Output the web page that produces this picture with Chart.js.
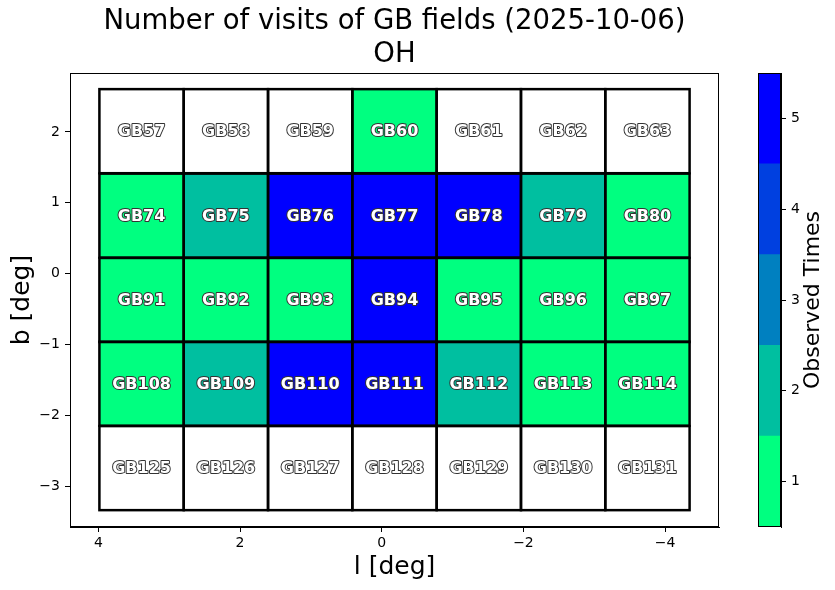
<!DOCTYPE html>
<html>
<head>
<meta charset="utf-8">
<script src="https://cdn.jsdelivr.net/npm/chart.js@4.4.1/dist/chart.umd.min.js"></script>
<style>
  html, body { margin: 0; padding: 0; background: #fff; }
  #wrap { position: relative; width: 835px; height: 590px; }
  #main { position: absolute; left: 0; top: 0; }
  #cbar { position: absolute; left: 740px; top: 0; }
</style>
</head>
<body>
<div id="wrap">
  <canvas id="main" width="835" height="590"></canvas>
  <canvas id="cbar" width="95" height="590"></canvas>
</div>
<script>
// field grid
const fieldNames = [
  ['GB57', 'GB58', 'GB59', 'GB60', 'GB61', 'GB62', 'GB63'],
  ['GB74', 'GB75', 'GB76', 'GB77', 'GB78', 'GB79', 'GB80'],
  ['GB91', 'GB92', 'GB93', 'GB94', 'GB95', 'GB96', 'GB97'],
  ['GB108', 'GB109', 'GB110', 'GB111', 'GB112', 'GB113', 'GB114'],
  ['GB125', 'GB126', 'GB127', 'GB128', 'GB129', 'GB130', 'GB131']
];
const colL = [3.39, 2.20, 1.01, -0.18, -1.37, -2.56, -3.75];
const rowB = [2.01, 0.82, -0.37, -1.55, -2.74];
const visits = [
  [0, 0, 0, 1, 0, 0, 0],
  [1, 2, 5, 5, 5, 2, 1],
  [1, 1, 1, 5, 1, 1, 1],
  [1, 2, 5, 5, 2, 1, 1],
  [0, 0, 0, 0, 0, 0, 0]
];
const xTicks = [4, 2, 0, -2, -4];
const yTicks = [-3, -2, -1, 0, 1, 2];
const cbLevels = [1, 2, 3, 4, 5];

const CELL_W = 1.19;
const CELL_H = 1.185;
const levelColors = ['#00ff80', '#00bfa0', '#0080c0', '#0040e0', '#0000ff'];
const FONT = '"DejaVu Sans", "Liberation Sans", sans-serif';

const minus = v => String(v).replace('-', '\u2212');

const cells = [];
rowB.forEach((b, r) => colL.forEach((l, c) => {
  cells.push({ x: l, y: b, v: visits[r][c], name: fieldNames[r][c] });
}));

const frame = {
  id: 'frame',
  afterDraw(chart) {
    const { ctx, chartArea: a } = chart;
    ctx.save();
    ctx.strokeStyle = '#000';
    ctx.lineWidth = 1;
    ctx.strokeRect(Math.round(a.left) + 0.5, Math.round(a.top) + 0.5,
      Math.round(a.width) - 1, Math.round(a.height) - 1);
    ctx.restore();
  }
};

const fieldCells = {
  id: 'fieldCells',
  beforeDatasetsDraw(chart) {
    const { ctx, scales: { x, y } } = chart;
    const pts = chart.data.datasets[0].data;
    const rects = pts.map(p => {
      const xa = x.getPixelForValue(p.x + CELL_W / 2);
      const xb = x.getPixelForValue(p.x - CELL_W / 2);
      const ya = y.getPixelForValue(p.y + CELL_H / 2);
      const yb = y.getPixelForValue(p.y - CELL_H / 2);
      return { l: Math.min(xa, xb), t: Math.min(ya, yb), w: Math.abs(xb - xa), h: Math.abs(yb - ya),
        cx: (xa + xb) / 2, cy: (ya + yb) / 2, p };
    });
    ctx.save();
    rects.forEach(r => {
      ctx.fillStyle = r.p.v > 0 ? levelColors[r.p.v - 1] : '#ffffff';
      ctx.fillRect(r.l, r.t, r.w, r.h);
    });
    ctx.strokeStyle = '#000';
    ctx.lineWidth = 2.5;
    rects.forEach(r => ctx.strokeRect(r.l, r.t, r.w, r.h));

    ctx.font = 'bold 16px ' + FONT;
    ctx.textAlign = 'center';
    ctx.textBaseline = 'middle';
    ctx.lineJoin = 'round';
    rects.forEach(r => {
      ctx.lineWidth = 2;
      ctx.strokeStyle = '#333';
      ctx.strokeText(r.p.name, r.cx, r.cy + 1);
      ctx.fillStyle = '#fff';
      ctx.fillText(r.p.name, r.cx, r.cy + 1);
    });
    ctx.restore();
  }
};

new Chart(document.getElementById('main'), {
  type: 'scatter',
  data: {
    datasets: [{ data: cells, pointRadius: 0, pointHoverRadius: 0 }]
  },
  options: {
    responsive: false,
    animation: false,
    layout: { padding: { left: 0, right: 116, top: 0, bottom: 0 } },
    plugins: {
      legend: { display: false },
      tooltip: { enabled: false },
      title: {
        display: true,
        fullSize: false,
        text: ['Number of visits of GB fields (2025-10-06)', 'OH'],
        color: '#000',
        font: { family: FONT, size: 27.5, weight: 'normal', lineHeight: 1.2 },
        padding: { top: 5, bottom: 2 }
      }
    },
    scales: {
      x: {
        type: 'linear',
        reverse: true,
        min: -4.76,
        max: 4.40,
        afterBuildTicks: s => { s.ticks = xTicks.map(v => ({ value: v })); },
        afterFit: s => { s.height = 63; },
        grid: { drawOnChartArea: false, drawTicks: true, tickLength: 5, color: '#000' },
        border: { display: true, color: '#000' },
        ticks: { color: '#000', padding: 3, font: { family: FONT, size: 14 }, callback: minus },
        title: { display: true, text: 'l [deg]', color: '#000',
          font: { family: FONT, size: 25 }, padding: { top: 0, bottom: 8 } }
      },
      y: {
        type: 'linear',
        min: -3.57,
        max: 2.83,
        afterBuildTicks: s => { s.ticks = yTicks.map(v => ({ value: v })); },
        afterFit: s => { s.width = 70; },
        grid: { drawOnChartArea: false, drawTicks: true, tickLength: 5, color: '#000' },
        border: { display: true, color: '#000' },
        ticks: { color: '#000', padding: 5, font: { family: FONT, size: 14 }, callback: minus },
        title: { display: true, text: 'b [deg]', color: '#000',
          font: { family: FONT, size: 25 }, padding: { top: 7, bottom: 0 } }
      }
    }
  },
  plugins: [fieldCells, frame]
});

// colour bar
const cbLabel = {
  id: 'cbLabel',
  afterDraw(chart) {
    const { ctx, chartArea: a } = chart;
    ctx.save();
    ctx.translate(73, (a.top + a.bottom) / 2);
    ctx.rotate(-Math.PI / 2);
    ctx.font = '22px ' + FONT;
    ctx.fillStyle = '#000';
    ctx.textAlign = 'center';
    ctx.textBaseline = 'middle';
    ctx.fillText('Observed Times', 0, 0);
    ctx.restore();
  }
};

new Chart(document.getElementById('cbar'), {
  type: 'bar',
  data: {
    labels: [''],
    datasets: cbLevels.map((lv, i) => ({
      data: [[lv - 0.5, lv + 0.5]],
      backgroundColor: levelColors[i],
      borderWidth: 0,
      barPercentage: 1,
      categoryPercentage: 1
    }))
  },
  options: {
    responsive: false,
    animation: false,
    layout: { padding: { left: 18, right: 0, top: 73, bottom: 63 } },
    plugins: { legend: { display: false }, tooltip: { enabled: false } },
    scales: {
      x: { display: false, stacked: true },
      y: {
        position: 'right',
        min: 0.5,
        max: 5.5,
        afterBuildTicks: s => { s.ticks = cbLevels.map(v => ({ value: v })); },
        afterFit: s => { s.width = 54; },
        grid: { drawOnChartArea: false, drawTicks: true, tickLength: 5, color: '#000' },
        border: { display: true, color: '#000' },
        ticks: { color: '#000', padding: 5, font: { family: FONT, size: 14 } }
      }
    }
  },
  plugins: [frame, cbLabel]
});
</script>
</body>
</html>
